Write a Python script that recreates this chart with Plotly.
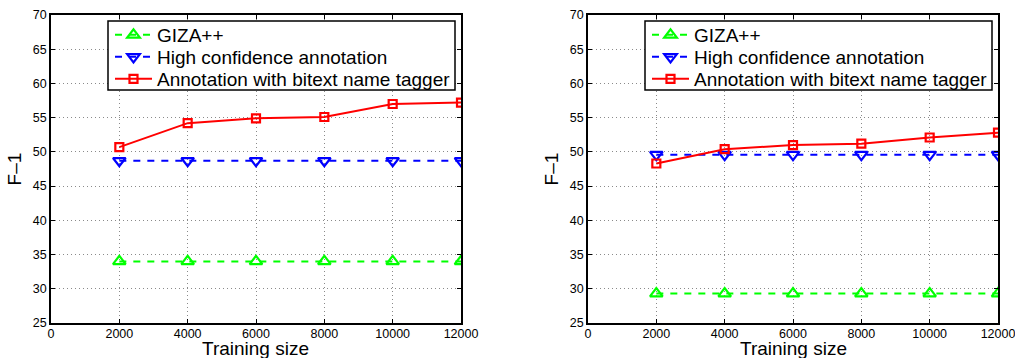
import plotly.graph_objects as go

# ---- data ----
training_size = [2000, 4000, 6000, 8000, 10000, 12000]
series_names = ["GIZA++", "High confidence annotation", "Annotation with bitext name tagger"]

left_giza = [34.0, 34.0, 34.0, 34.0, 34.0, 34.0]
left_high = [48.7, 48.7, 48.7, 48.7, 48.7, 48.7]
left_bitext = [50.7, 54.2, 54.9, 55.1, 57.0, 57.2]

right_giza = [29.3, 29.3, 29.3, 29.3, 29.3, 29.3]
right_high = [49.6, 49.6, 49.6, 49.6, 49.6, 49.6]
right_bitext = [48.3, 50.4, 51.0, 51.2, 52.1, 52.8]

x_ticks = [0, 2000, 4000, 6000, 8000, 10000, 12000]
x_tick_labels = ["0", "2000", "4000", "6000", "8000", "10000", "12000"]
y_ticks = [25, 30, 35, 40, 45, 50, 55, 60, 65, 70]
x_title = "Training size"
y_title = "F–1"

W, H = 1015, 358
FONT = "Liberation Sans, Arial, Helvetica, sans-serif"

styles = [
    dict(color="#00ff00", dash="7px,7px", symbol="triangle-up-open", size=11),
    dict(color="#0000ff", dash="7px,7px", symbol="triangle-down-open", size=11),
    dict(color="#ff0000", dash="solid", symbol="square-open", size=8),
]


def px_x(p):
    return p / W


def px_y(p):
    return 1 - p / H


# legend layout (pixels): box frame and row centres
row_centres = [35, 57, 79]
panels = [
    dict(xa="x", ya="y", data=[left_giza, left_high, left_bitext],
         legends=["legend", "legend2", "legend3"], box=(108, 455), dom=(51, 461)),
    dict(xa="x2", ya="y2", data=[right_giza, right_high, right_bitext],
         legends=["legend4", "legend5", "legend6"], box=(645, 992), dom=(588, 998)),
]

fig = go.Figure()
legend_layouts = {}
shapes = []
annotations = []
for p in panels:
    for name, vals, st, leg, rc in zip(series_names, p["data"], styles, p["legends"], row_centres):
        fig.add_trace(go.Scatter(
            x=training_size, y=vals, name=name, mode="lines+markers",
            xaxis=p["xa"], yaxis=p["ya"], legend=leg,
            line=dict(color=st["color"], width=2, dash=st["dash"]),
            marker=dict(symbol=st["symbol"], size=st["size"], color=st["color"],
                        line=dict(color=st["color"], width=2.2)),
        ))
        legend_layouts[leg] = dict(
            x=px_x(p["box"][0] + 2), xanchor="left", y=px_y(rc), yanchor="middle",
            bgcolor="rgba(0,0,0,0)", borderwidth=0,
            font=dict(family=FONT, size=19, color="black"),
            itemwidth=37,
        )
    shapes.append(dict(type="rect", xref="paper", yref="paper",
                       x0=px_x(p["box"][0]), x1=px_x(p["box"][1]),
                       y0=px_y(90), y1=px_y(21),
                       line=dict(color="black", width=1.5),
                       fillcolor="white", layer="above"))
    annotations.append(dict(text=x_title, xref="paper", yref="paper",
                            x=px_x((p["dom"][0] + p["dom"][1]) / 2), xanchor="center",
                            y=px_y(336), yanchor="top", showarrow=False,
                            font=dict(family=FONT, size=19, color="black")))

axis_common = dict(
    showline=True, linecolor="black", linewidth=1.5, mirror="ticks",
    ticks="inside", ticklen=4, tickcolor="black", tickwidth=1,
    showgrid=True, gridcolor="#8a8a8a", gridwidth=1, griddash="1px,3px",
    zeroline=False, tickfont=dict(family=FONT, size=12.5, color="black"),
    automargin=False, ticklabeloverflow="allow",
)

xaxis_common = dict(range=[0, 12000], tickvals=x_ticks, ticktext=x_tick_labels,
                    ticklabelstandoff=-2)
yaxis_common = dict(range=[25, 70], tickvals=y_ticks,
                    title=dict(text=y_title, font=dict(size=19), standoff=6))

ydom = [px_y(323), px_y(15)]

fig.update_layout(
    width=W, height=H,
    margin=dict(l=0, r=0, t=0, b=0),
    paper_bgcolor="white", plot_bgcolor="white",
    font=dict(family=FONT, color="black"),
    xaxis=dict(domain=[px_x(51), px_x(461)], anchor="y", **axis_common, **xaxis_common),
    yaxis=dict(domain=ydom, anchor="x", **axis_common, **yaxis_common),
    xaxis2=dict(domain=[px_x(588), px_x(998)], anchor="y2", **axis_common, **xaxis_common),
    yaxis2=dict(domain=ydom, anchor="x2", **axis_common, **yaxis_common),
    shapes=shapes,
    annotations=annotations,
    showlegend=True,
    **legend_layouts,
)

fig.write_html("out.html",
               config={"displayModeBar": False},
               post_script="document.body.style.margin='0';document.body.style.overflow='hidden';")
